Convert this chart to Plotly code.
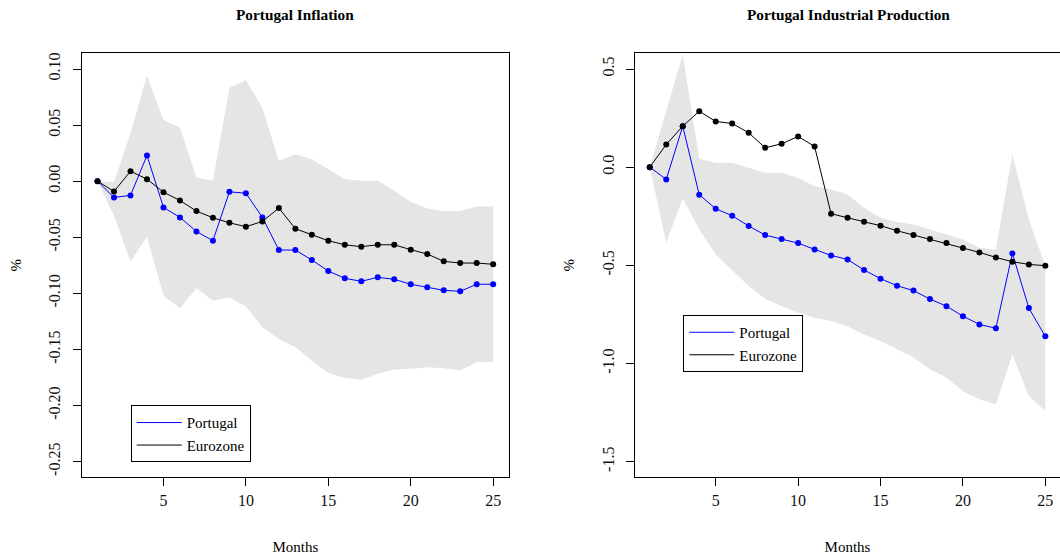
import plotly.graph_objects as go

months = list(range(1, 26))

# Portugal Inflation panel
infl_portugal = [0.0, -0.0145, -0.0127, 0.0229, -0.0234, -0.0323, -0.0448, -0.0531, -0.0095, -0.0107,
                 -0.0323, -0.0614, -0.0614, -0.0703, -0.0801, -0.0866, -0.0893, -0.0857, -0.0875, -0.0919,
                 -0.0946, -0.0973, -0.0982, -0.0919, -0.0919]
infl_eurozone = [0.0, -0.0092, 0.0089, 0.0018, -0.0098, -0.0172, -0.0267, -0.0326, -0.0371, -0.0406,
                 -0.0359, -0.0240, -0.0424, -0.0478, -0.0531, -0.0567, -0.0584, -0.0567, -0.0567, -0.0611,
                 -0.0649, -0.0715, -0.0730, -0.0730, -0.0741]
infl_upper = [0.0, -0.001, 0.043, 0.094, 0.0545, 0.0478, 0.0033, 0.0003, 0.0833, 0.0899,
              0.0655, 0.018, 0.024, 0.0196, 0.0107, 0.0018, 0.0003, 0.0003, -0.0086, -0.0184,
              -0.0243, -0.0267, -0.0267, -0.0225, -0.0225]
infl_lower = [0.0, -0.0309, -0.0718, -0.0496, -0.102, -0.1133, -0.0955, -0.1065, -0.1038, -0.1118,
              -0.1302, -0.1406, -0.148, -0.160, -0.171, -0.1755, -0.177, -0.1717, -0.1679, -0.1673,
              -0.1658, -0.1667, -0.1688, -0.1613, -0.1613]

# Portugal Industrial Production panel
ip_portugal = [0.0, -0.0626, 0.2088, -0.1405, -0.2118, -0.2475, -0.300, -0.346, -0.3666, -0.387,
               -0.419, -0.4497, -0.470, -0.524, -0.568, -0.604, -0.629, -0.672, -0.708, -0.759,
               -0.801, -0.821, -0.4394, -0.718, -0.862]
ip_eurozone = [0.0, 0.1156, 0.2088, 0.285, 0.2327, 0.2225, 0.175, 0.0988, 0.119, 0.1563,
               0.1054, -0.2373, -0.2577, -0.278, -0.2984, -0.3238, -0.346, -0.3666, -0.387, -0.4124,
               -0.4343, -0.4598, -0.4817, -0.4954, -0.502]
ip_upper = [0.0, 0.29, 0.574, 0.043, 0.022, 0.022, -0.003, -0.029, -0.029, -0.054,
            -0.097, -0.1135, -0.139, -0.207, -0.258, -0.28, -0.292, -0.317, -0.343, -0.368,
            -0.410, -0.419, 0.0647, -0.266, -0.504]
ip_lower = [0.0, -0.385, -0.159, -0.317, -0.4445, -0.524, -0.606, -0.670, -0.708, -0.741,
            -0.767, -0.784, -0.810, -0.852, -0.886, -0.928, -0.970, -1.030, -1.072, -1.141,
            -1.183, -1.208, -0.954, -1.166, -1.242]

x_ticks = [5, 10, 15, 20, 25]
infl_yticks = [-0.25, -0.20, -0.15, -0.10, -0.05, 0.00, 0.05, 0.10]
infl_yticklabels = ["-0.25", "-0.20", "-0.15", "-0.10", "-0.05", "0.00", "0.05", "0.10"]
ip_yticks = [-1.5, -1.0, -0.5, 0.0, 0.5]
ip_yticklabels = ["-1.5", "-1.0", "-0.5", "0.0", "0.5"]

FONT = "Liberation Serif"
BAND = "#E5E5E5"
BLUE = "#0000FF"
BLACK = "#000000"
W, H = 1060, 555

fig = go.Figure()

def add_panel(xa, ya, lower, upper, pt, ez, legend):
    fig.add_trace(go.Scatter(x=months, y=lower, mode="lines", line=dict(width=0, color=BAND),
                             showlegend=False, hoverinfo="skip", xaxis=xa, yaxis=ya))
    fig.add_trace(go.Scatter(x=months, y=upper, mode="lines", line=dict(width=0, color=BAND),
                             fill="tonexty", fillcolor=BAND, showlegend=False, hoverinfo="skip",
                             xaxis=xa, yaxis=ya))
    fig.add_trace(go.Scatter(x=months, y=pt, mode="lines+markers", name="Portugal",
                             line=dict(color=BLUE, width=1), marker=dict(color=BLUE, size=6),
                             showlegend=False, xaxis=xa, yaxis=ya))
    fig.add_trace(go.Scatter(x=months, y=ez, mode="lines+markers", name="Eurozone",
                             line=dict(color=BLACK, width=1), marker=dict(color=BLACK, size=6),
                             showlegend=False, xaxis=xa, yaxis=ya))
    # legend-only line entries
    fig.add_trace(go.Scatter(x=[None], y=[None], mode="lines", name="Portugal",
                             line=dict(color=BLUE, width=1), legend=legend, xaxis=xa, yaxis=ya))
    fig.add_trace(go.Scatter(x=[None], y=[None], mode="lines", name="Eurozone",
                             line=dict(color=BLACK, width=1), legend=legend, xaxis=xa, yaxis=ya))

add_panel("x", "y", infl_lower, infl_upper, infl_portugal, infl_eurozone, "legend")
add_panel("x2", "y2", ip_lower, ip_upper, ip_portugal, ip_eurozone, "legend2")

ydom = [1 - 477.3 / H, 1 - 53.3 / H]
axis_common = dict(showgrid=False, zeroline=False, showline=True, linecolor="black", linewidth=1,
                   ticks="outside", ticklen=8, tickcolor="black", automargin=False,
                   tickfont=dict(family=FONT, size=16, color="#111111"))

legend_common = dict(xanchor="left", yanchor="top", bgcolor="white", bordercolor="black",
                     borderwidth=1, font=dict(family=FONT, size=15), itemwidth=45,
                     tracegroupgap=0, traceorder="normal")

fig.update_layout(
    width=W, height=H, margin=dict(l=0, r=0, t=0, b=0),
    template="none", plot_bgcolor="white", paper_bgcolor="white",
    font=dict(family=FONT, size=15, color="black"),
    xaxis=dict(domain=[81.7 / W, 509 / W], range=[0.04, 25.96], tickvals=x_ticks, mirror=True,
               anchor="y", title=dict(text="Months", standoff=33, font=dict(family=FONT, size=15)),
               **axis_common),
    yaxis=dict(domain=ydom, range=[-0.264, 0.114], tickvals=infl_yticks, ticktext=infl_yticklabels,
               tickangle=-90, mirror=True, anchor="x", ticklabelstandoff=6,
               title=dict(text="%", standoff=21, font=dict(family=FONT, size=15)), **axis_common),
    xaxis2=dict(domain=[635 / W, 1.0], range=[0.103, 25.89], tickvals=x_ticks, mirror=True,
                anchor="y2", title=dict(text="Months", standoff=33, font=dict(family=FONT, size=15)),
                **axis_common),
    yaxis2=dict(domain=ydom, range=[-1.58, 0.58], tickvals=ip_yticks, ticktext=ip_yticklabels,
                tickangle=-90, mirror=False, anchor="x2", ticklabelstandoff=6,
                title=dict(text="%", standoff=21, font=dict(family=FONT, size=15)), **axis_common),
    legend=dict(x=130.7 / W, y=1 - 405.3 / H, **legend_common),
    legend2=dict(x=683.3 / W, y=1 - 315 / H, **legend_common),
    annotations=[
        dict(text="<b>Portugal Inflation</b>", x=(81.7 + 509) / 2 / W, y=1 - 15 / H, xref="paper",
             yref="paper", showarrow=False, xanchor="center", yanchor="middle",
             font=dict(family=FONT, size=15.3, color="black")),
        dict(text="<b>Portugal Industrial Production</b>", x=848 / W, y=1 - 15 / H, xref="paper",
             yref="paper", showarrow=False, xanchor="center", yanchor="middle",
             font=dict(family=FONT, size=15.3, color="black")),
    ],
)

fig.write_html("out.html")
